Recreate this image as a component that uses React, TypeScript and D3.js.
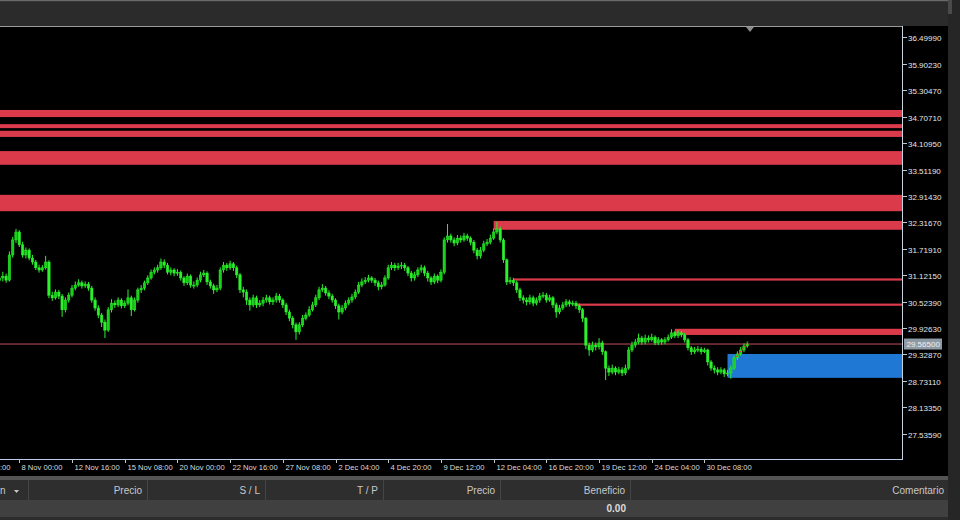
import React from "react";
import * as d3 from "d3";

// ---- Price data (H4 bars) ----
const firstOpen = 31.0;
const closes = [
  31.06, 31.10, 31.01, 31.58, 31.92, 32.10, 31.81, 31.58, 31.69, 31.51, 31.42, 31.29, 31.24, 31.29, 31.42, 30.67,
  30.61, 30.74, 30.65, 30.34, 30.56, 30.67, 30.83, 30.90, 30.95, 30.88, 30.92, 30.83, 30.56, 30.38, 30.22, 30.06,
  29.88, 30.34, 30.49, 30.45, 30.56, 30.43, 30.49, 30.61, 30.34, 30.56, 30.79, 30.83, 30.95, 31.06, 31.19, 31.24,
  31.29, 31.42, 31.35, 31.19, 31.24, 31.17, 31.19, 31.06, 30.95, 31.10, 30.90, 30.90, 31.01, 31.13, 31.17, 30.97,
  30.88, 30.79, 30.83, 31.24, 31.35, 31.29, 31.38, 31.29, 31.13, 30.79, 30.74, 30.56, 30.45, 30.61, 30.45, 30.49,
  30.56, 30.61, 30.52, 30.56, 30.65, 30.56, 30.45, 30.29, 30.15, 30.00, 29.84, 30.00, 30.15, 30.22, 30.34, 30.45,
  30.61, 30.79, 30.83, 30.72, 30.65, 30.56, 30.43, 30.29, 30.38, 30.49, 30.56, 30.63, 30.74, 30.90, 30.97, 31.01,
  31.06, 31.01, 30.95, 30.86, 30.90, 31.06, 31.29, 31.35, 31.29, 31.33, 31.35, 31.29, 31.17, 31.06, 31.13, 31.24,
  31.29, 31.17, 31.06, 30.97, 31.10, 31.01, 31.19, 31.92, 32.01, 31.92, 31.85, 31.96, 31.92, 32.01, 31.96, 31.87,
  31.69, 31.56, 31.69, 31.83, 31.87, 31.96, 32.10, 32.17, 31.92, 31.47, 30.97, 31.01, 30.95, 30.79, 30.61, 30.56,
  30.52, 30.61, 30.49, 30.56, 30.65, 30.67, 30.56, 30.61, 30.45, 30.29, 30.38, 30.45, 30.52, 30.47, 30.49, 30.43,
  30.34, 30.15, 29.54, 29.43, 29.54, 29.50, 29.59, 29.39, 29.02, 28.93, 29.02, 28.93, 28.98, 28.91, 29.02, 29.43,
  29.54, 29.61, 29.70, 29.61, 29.70, 29.66, 29.72, 29.59, 29.66, 29.61, 29.66, 29.72, 29.82, 29.75, 29.82, 29.77,
  29.66, 29.48, 29.39, 29.43, 29.45, 29.39, 29.43, 29.16, 29.02, 28.98, 28.93, 28.98, 28.89, 28.91, 29.02, 29.25,
  29.34, 29.43, 29.52, 29.565,
];
const highs = [
  31.15, 31.20, 31.16, 31.66, 31.99, 32.17, 32.14, 31.88, 31.75, 31.73, 31.58, 31.47, 31.36, 31.35, 31.56, 31.46,
  30.75, 30.80, 30.79, 30.70, 30.62, 30.73, 30.90, 30.98, 31.03, 31.00, 30.98, 30.97, 30.88, 30.62, 30.44, 30.27,
  30.12, 30.40, 30.58, 30.55, 30.62, 30.60, 30.55, 30.80, 30.66, 30.62, 30.84, 30.90, 31.00, 31.12, 31.25, 31.30,
  31.36, 31.50, 31.48, 31.40, 31.30, 31.28, 31.26, 31.23, 31.10, 31.16, 31.14, 30.98, 31.07, 31.20, 31.24, 31.21,
  31.02, 30.93, 30.90, 31.30, 31.42, 31.40, 31.45, 31.42, 31.34, 31.17, 30.86, 30.80, 30.62, 30.68, 30.66, 30.56,
  30.63, 30.68, 30.66, 30.62, 30.72, 30.70, 30.60, 30.50, 30.34, 30.20, 30.05, 30.06, 30.22, 30.28, 30.42, 30.52,
  30.68, 30.86, 30.92, 30.88, 30.78, 30.70, 30.60, 30.48, 30.45, 30.55, 30.62, 30.70, 30.80, 30.97, 31.05, 31.08,
  31.13, 31.10, 31.06, 31.00, 30.97, 31.12, 31.36, 31.42, 31.40, 31.40, 31.42, 31.40, 31.33, 31.22, 31.20, 31.30,
  31.36, 31.34, 31.22, 31.10, 31.16, 31.14, 31.25, 31.98, 32.28, 32.06, 31.98, 32.03, 32.02, 32.08, 32.06, 32.00,
  31.92, 31.74, 31.76, 31.90, 31.94, 32.04, 32.18, 32.33, 32.22, 31.96, 31.50, 31.08, 31.06, 31.00, 30.84, 30.67,
  30.62, 30.68, 30.66, 30.62, 30.72, 30.74, 30.72, 30.68, 30.65, 30.50, 30.45, 30.52, 30.58, 30.57, 30.55, 30.54,
  30.48, 30.38, 30.18, 29.60, 29.62, 29.60, 29.70, 29.64, 29.42, 29.08, 29.10, 29.06, 29.05, 29.04, 29.10, 29.50,
  29.62, 29.68, 29.80, 29.75, 29.78, 29.76, 29.80, 29.76, 29.72, 29.70, 29.72, 29.78, 29.90, 29.86, 29.88, 29.86,
  29.82, 29.70, 29.52, 29.50, 29.52, 29.50, 29.48, 29.46, 29.20, 29.08, 29.04, 29.04, 29.02, 28.98, 29.08, 29.30,
  29.40, 29.50, 29.58, 29.62,
];
const lows = [
  30.92, 30.98, 30.95, 30.98, 31.52, 31.85, 31.76, 31.52, 31.50, 31.46, 31.36, 31.24, 31.18, 31.20, 31.25, 30.60,
  30.54, 30.57, 30.58, 30.18, 30.28, 30.50, 30.62, 30.78, 30.86, 30.82, 30.83, 30.77, 30.50, 30.32, 30.15, 29.95,
  29.70, 29.84, 30.28, 30.38, 30.40, 30.37, 30.38, 30.44, 30.20, 30.30, 30.50, 30.72, 30.78, 30.90, 31.02, 31.14,
  31.18, 31.24, 31.28, 31.14, 31.12, 31.10, 31.11, 31.00, 30.88, 30.90, 30.84, 30.82, 30.85, 30.96, 31.08, 30.90,
  30.82, 30.70, 30.74, 30.78, 31.18, 31.22, 31.24, 31.22, 31.06, 30.72, 30.62, 30.45, 30.32, 30.40, 30.38, 30.40,
  30.42, 30.50, 30.46, 30.45, 30.50, 30.50, 30.38, 30.22, 30.08, 29.92, 29.66, 29.78, 29.95, 30.10, 30.18, 30.30,
  30.40, 30.56, 30.74, 30.66, 30.58, 30.50, 30.36, 30.12, 30.24, 30.33, 30.44, 30.50, 30.58, 30.70, 30.85, 30.92,
  30.96, 30.95, 30.88, 30.78, 30.80, 30.86, 31.02, 31.24, 31.22, 31.24, 31.26, 31.22, 31.10, 30.98, 31.00, 31.08,
  31.18, 31.10, 30.98, 30.90, 30.92, 30.94, 30.96, 31.14, 31.86, 31.86, 31.78, 31.80, 31.86, 31.88, 31.90, 31.80,
  31.62, 31.48, 31.50, 31.64, 31.78, 31.82, 31.92, 32.05, 31.86, 31.40, 30.90, 30.92, 30.88, 30.72, 30.54, 30.48,
  30.44, 30.46, 30.42, 30.44, 30.50, 30.60, 30.50, 30.52, 30.38, 30.16, 30.24, 30.33, 30.40, 30.41, 30.42, 30.36,
  30.27, 30.06, 29.45, 29.30, 29.38, 29.42, 29.44, 29.32, 28.75, 28.84, 28.88, 28.86, 28.88, 28.84, 28.86, 28.98,
  29.38, 29.48, 29.56, 29.55, 29.56, 29.60, 29.62, 29.54, 29.54, 29.55, 29.56, 29.62, 29.68, 29.70, 29.70, 29.72,
  29.60, 29.42, 29.32, 29.34, 29.38, 29.33, 29.36, 29.08, 28.96, 28.90, 28.86, 28.88, 28.82, 28.84, 28.78, 28.98,
  29.20, 29.30, 29.38, 29.48,
];

const bidPrice = 29.565;

// ---- Axis labels ----
const priceTicks = [
  36.4999, 35.9023, 35.3047, 34.7071, 34.1095, 33.5119, 32.9143, 32.3167,
  31.7191, 31.1215, 30.5239, 29.9263, 29.3287, 28.7311, 28.1335, 27.5359,
];
const timeLabels = [
  "5 Nov 08:00", "8 Nov 00:00", "12 Nov 16:00", "15 Nov 08:00", "20 Nov 00:00",
  "22 Nov 16:00", "27 Nov 08:00", "2 Dec 04:00", "4 Dec 20:00", "9 Dec 12:00",
  "12 Dec 04:00", "16 Dec 20:00", "19 Dec 12:00", "24 Dec 04:00", "30 Dec 08:00",
];
const timeLabelFirstBar = -10;
const barsPerLabel = 16;

// ---- Supply / demand zones: starting bar, upper price, lower price ----
const supplyStart = [0, 0, 0, 0, 0, 150, 156, 175, 205];
const supplyTop = [34.86, 34.54, 34.39, 33.93, 32.94, 32.35, 31.05, 30.48, 29.91];
const supplyBottom = [34.70, 34.45, 34.25, 33.62, 32.57, 32.15, 31.00, 30.43, 29.77];
const demandStart = [221];
const demandTop = [29.34];
const demandBottom = [28.80];

// trade line drawn across the last bars
const tradeBars = [223.6, 227.3];
const tradePrices = [29.27, 29.62];

// ---- Bottom terminal table ----
const columnEdges = [28, 147, 265, 383, 500, 630];
const columnTitles = ["Precio", "S / L", "T / P", "Precio", "Beneficio", "Comentario"];
const profitText = "0.00";

const W = 960;
const H = 520;
const plot = { left: 0, right: 902, top: 26, bottom: 459 };

export default function App() {
  const x = d3.scaleLinear().domain([0.14, 273.97]).range([plot.left, plot.right]);
  const y = d3.scaleLinear().domain([26.964, 36.76]).range([plot.bottom, plot.top]);

  const bars = closes.map((c, i) => ({
    o: i === 0 ? firstOpen : closes[i - 1],
    c,
    h: highs[i],
    l: lows[i],
    i,
  }));

  const bodyW = 2.4;
  const green = "#2cf22c";
  const axisFont = "'Liberation Sans', Arial, sans-serif";

  const tradeLine = d3
    .line<number>()
    .x((_, k) => x(tradeBars[k]))
    .y((p) => y(p));

  return (
    <div style={{ position: "fixed", left: 0, top: 0, width: W, height: H, background: "#000" }}>
      <svg width={W} height={H} style={{ display: "block" }}>
        {/* window background */}
        <rect x={0} y={0} width={W} height={H} fill="#000" />
        <rect x={0} y={0} width={W} height={plot.top} fill="#2b2b2b" />
        <rect x={0} y={0} width={W} height={1.2} fill="#6a6a6a" />
        <rect x={948} y={0} width={12} height={H} fill="#262626" />
        <rect x={948} y={0} width={4} height={14} fill="#4a4a4a" />

        <defs>
          <clipPath id="plotClip">
            <rect x={plot.left} y={plot.top} width={plot.right - plot.left} height={plot.bottom - plot.top} />
          </clipPath>
        </defs>

        <g clipPath="url(#plotClip)">
          {/* supply zones */}
          {supplyTop.map((t, k) => (
            <rect
              key={"s" + k}
              x={supplyStart[k] === 0 ? plot.left : x(supplyStart[k])}
              y={y(t)}
              width={plot.right - (supplyStart[k] === 0 ? plot.left : x(supplyStart[k]))}
              height={y(supplyBottom[k]) - y(t)}
              fill="#da3a4a"
            />
          ))}
          {/* demand zone */}
          {demandTop.map((t, k) => (
            <rect
              key={"d" + k}
              x={x(demandStart[k])}
              y={y(t)}
              width={plot.right - x(demandStart[k])}
              height={y(demandBottom[k]) - y(t)}
              fill="#1e78d4"
            />
          ))}
          {/* bid line */}
          <line x1={plot.left} x2={plot.right} y1={y(bidPrice)} y2={y(bidPrice)} stroke="#c4505c" strokeWidth={1} />

          {/* candles */}
          {bars.map((b) => {
            const cx = x(b.i);
            const top = y(Math.max(b.o, b.c));
            const bot = y(Math.min(b.o, b.c));
            return (
              <g key={b.i}>
                <line x1={cx} x2={cx} y1={y(b.h)} y2={y(b.l)} stroke={green} strokeWidth={1} />
                <rect
                  x={cx - bodyW / 2}
                  y={top}
                  width={bodyW}
                  height={Math.max(1, bot - top)}
                  fill={b.c >= b.o ? "#16d016" : green}
                  stroke={green}
                  strokeWidth={0.5}
                />
              </g>
            );
          })}

          <path
            d={tradeLine(tradePrices) || ""}
            fill="none"
            stroke="#e03a3a"
            strokeWidth={1}
            strokeDasharray="2 1"
          />
        </g>

        {/* frame */}
        <line x1={plot.left} x2={plot.right} y1={plot.top + 0.5} y2={plot.top + 0.5} stroke="#9a9a9a" />
        <line x1={plot.right + 0.5} x2={plot.right + 0.5} y1={plot.top} y2={plot.bottom} stroke="#c8d4e2" />
        <line x1={plot.left} x2={plot.right + 1} y1={plot.bottom + 0.5} y2={plot.bottom + 0.5} stroke="#b8cce4" />
        {/* scroll marker */}
        <path d={`M746,${plot.top + 1} L754,${plot.top + 1} L750,${plot.top + 6} Z`} fill="#8a8a8a" />

        {/* price axis */}
        {priceTicks.map((p) => (
          <g key={p} transform={`translate(${plot.right + 1},${Math.round(y(p)) + 0.5})`}>
            <line x1={0} x2={4} y1={0} y2={0} stroke="#c8c8c8" />
            <text x={5} y={3} fontSize={8} fontFamily={axisFont} fill="#e6e6e6">
              {p.toFixed(5)}
            </text>
          </g>
        ))}
        {/* bid price label */}
        <g transform={`translate(${plot.right + 2},${y(bidPrice)})`}>
          <rect x={0} y={-5.5} width={38} height={11} fill="#8d99a4" />
          <text x={2.5} y={3} fontSize={8} fontFamily={axisFont} fill="#f2f2f2">
            {bidPrice.toFixed(5)}
          </text>
        </g>

        {/* time axis */}
        {timeLabels.map((t, k) => {
          const tx = x(timeLabelFirstBar + k * barsPerLabel);
          return (
            <g key={t} transform={`translate(${Math.round(tx) + 0.5},${plot.bottom})`}>
              <line x1={0} x2={0} y1={0} y2={4} stroke="#c8c8c8" />
              <text x={2} y={10.5} fontSize={7.6} fontFamily={axisFont} fill="#dcdcdc">
                {t}
              </text>
            </g>
          );
        })}

        {/* terminal table */}
        <rect x={0} y={476} width={948} height={4} fill="#545454" />
        <rect x={0} y={480} width={948} height={20} fill="#2e2e2e" />
        <rect x={0} y={500} width={948} height={17} fill="#404040" />
        <rect x={0} y={517} width={948} height={3} fill="#2c2c2c" />
        {columnEdges.map((cx) => (
          <line key={cx} x1={cx + 0.5} x2={cx + 0.5} y1={480} y2={500} stroke="#454545" />
        ))}
        <text x={0} y={494} fontSize={10} fontFamily={axisFont} fill="#c8c8c8">n</text>
        <path d="M14,490 L19,490 L16.5,493 Z" fill="#c8c8c8" />
        {columnTitles.map((t, k) => {
          const right = k + 1 < columnEdges.length ? columnEdges[k + 1] - 5 : 944;
          return (
            <text key={k} x={right} y={494} fontSize={10} fontFamily={axisFont} fill="#c8c8c8" textAnchor="end">
              {t}
            </text>
          );
        })}
        <text x={626} y={512} fontSize={10} fontWeight="bold" fontFamily={axisFont} fill="#dcdcdc" textAnchor="end">
          {profitText}
        </text>
      </svg>
    </div>
  );
}
